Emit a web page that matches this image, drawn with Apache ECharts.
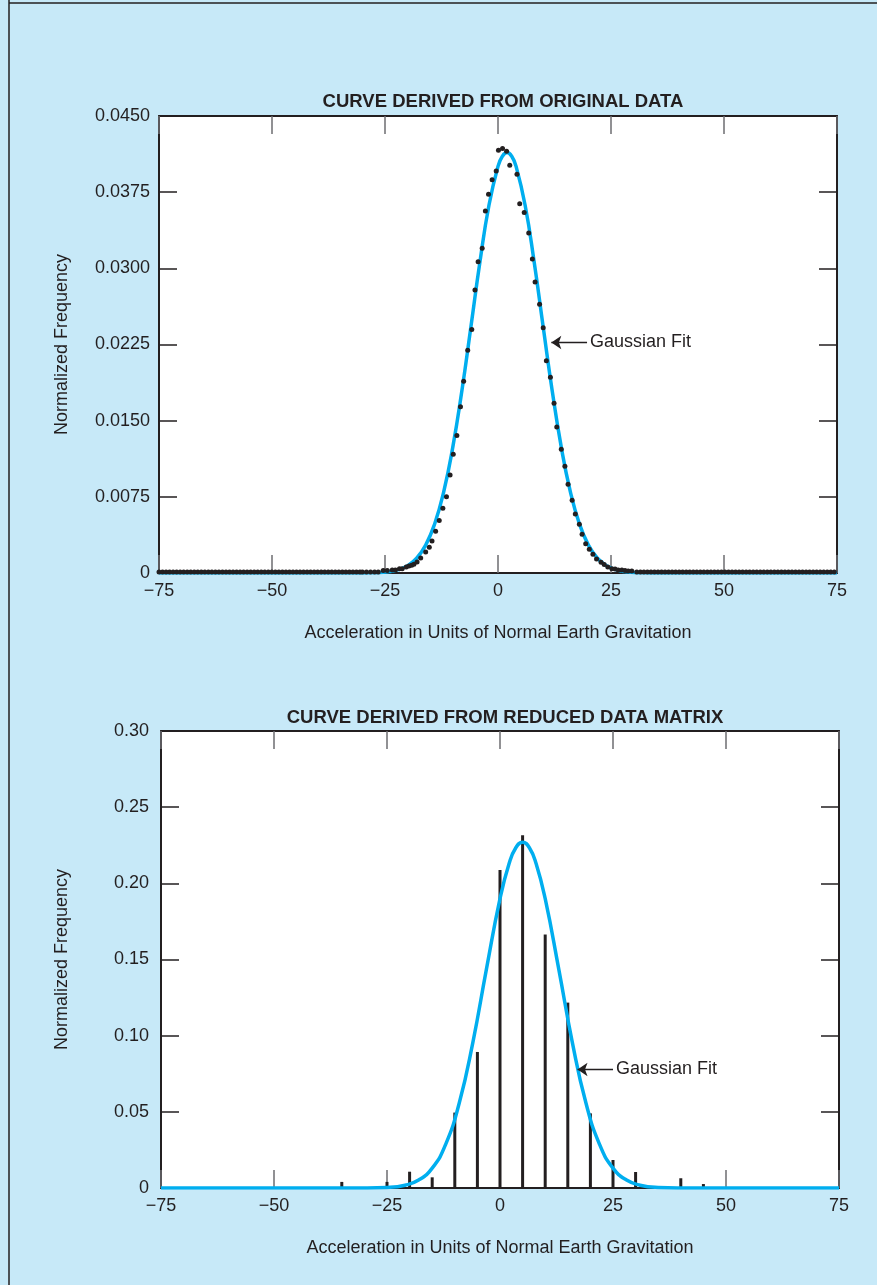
<!DOCTYPE html>
<html>
<head>
<meta charset="utf-8">
<title>Gaussian fit curves</title>
<script src="https://cdn.jsdelivr.net/npm/echarts@6/dist/echarts.min.js"></script>
<style>
    html, body { margin: 0; padding: 0; background: #c7e9f8; }
    #main { width: 877px; height: 1285px; }
</style>
</head>
<body>
<div id="main"></div>
<script>
// tick values
var xTicks = [-75, -50, -25, 0, 25, 50, 75];
var topYTicks = [0, 0.0075, 0.015, 0.0225, 0.03, 0.0375, 0.045];
var bottomYTicks = [0, 0.05, 0.1, 0.15, 0.2, 0.25, 0.3];

var dotX = [-30.0, -29.1, -28.2, -27.3, -26.5, -25.4, -24.5, -23.4, -22.7, -21.8, -21.2, -20.3, -19.7, -19.1,
    -18.6, -17.9, -17.1, -16.0, -15.2, -14.6, -13.8, -13.0, -12.2, -11.4, -10.6, -9.9, -9.1, -8.3, -7.6, -6.7,
    -5.8, -5.1, -4.4, -3.5, -2.8, -2.1, -1.3, -0.4, 0.1, 1.0, 1.9, 2.6, 4.2, 4.8, 5.8, 6.8, 7.6, 8.2, 9.2, 10.0,
    10.7, 11.6, 12.4, 13.0, 14.0, 14.8, 15.5, 16.4, 17.1, 18.0, 18.6, 19.4, 20.2, 21.0, 21.8, 22.8, 23.5, 24.3,
    25.2, 25.9, 26.6, 27.4, 28.1, 28.8, 29.6, 30.7];
var dotY = [0.0001, 0.0001, 0.0001, 0.0001, 0.0001, 0.00024, 0.00024, 0.0003, 0.0003, 0.00043, 0.00043, 0.00059,
    0.00069, 0.00076, 0.00086, 0.00108, 0.00148, 0.00207, 0.00253, 0.00315, 0.00411, 0.00516, 0.00637, 0.00752,
    0.00965, 0.01169, 0.01353, 0.01638, 0.01888, 0.02193, 0.02397, 0.02787, 0.03066, 0.03197, 0.03564, 0.03729,
    0.03873, 0.03958, 0.04162, 0.04179, 0.04152, 0.04014, 0.03926, 0.03637, 0.03549, 0.03348, 0.03092, 0.02865,
    0.02646, 0.02416, 0.02091, 0.01927, 0.01671, 0.01438, 0.01218, 0.01051, 0.00873, 0.00716, 0.00581, 0.0048,
    0.00381, 0.00289, 0.00233, 0.00184, 0.00138, 0.00105, 0.00083, 0.00059, 0.00043, 0.0004, 0.0003, 0.0003,
    0.00025, 0.0002, 0.0002, 0.0001];
// flat tails of the top plot: points every 0.78 units, all sitting on zero
var tailStep = 0.78;
var tailValue = 0.0001;

// top plot: gaussian fit
var fitTopX = [-75, -50, -36, -32, -28, -26, -24, -22, -20, -18, -16, -14, -12, -10, -8, -6, -4, -2, 0, 1, 2, 3,
    4, 6, 8, 10, 12, 14, 16, 18, 20, 22, 24, 26, 28, 30, 32, 36, 50, 75];
var fitTopY = [0, 0, 0, 0.000003, 0.000022, 0.000058, 0.000144, 0.000333, 0.000719, 0.001452, 0.002744, 0.004853,
    0.00802, 0.012395, 0.017918, 0.024223, 0.030624, 0.036208, 0.040036, 0.041055, 0.0414, 0.041055, 0.040036,
    0.036208, 0.030624, 0.024223, 0.017918, 0.012395, 0.00802, 0.004853, 0.002744, 0.001452, 0.000719, 0.000333,
    0.000144, 0.000058, 0.000022, 0.000003, 0, 0];

// bottom plot: reduced data matrix bars
var barX = [-35, -25, -20, -15, -10, -5, 0, 5, 10, 15, 20, 25, 30, 40, 45];
var barY = [0.004, 0.004, 0.0107, 0.007, 0.0495, 0.0893, 0.2088, 0.2316, 0.1664, 0.1217, 0.049, 0.0184, 0.0105,
    0.0064, 0.0026];

// bottom plot: gaussian fit
var fitBottomX = [-75, -60, -45, -35, -30, -25, -21, -18, -15, -12, -9, -6, -3, 0, 2, 3.5, 5, 6.5, 8, 10, 13, 16,
    19, 22, 25, 28, 31, 35, 40, 45, 60, 75];
var fitBottomY = [0, 0, 0, 0.000003, 0.000036, 0.000366, 0.001814, 0.005185, 0.013037, 0.028806, 0.055978,
    0.095658, 0.143714, 0.189886, 0.212858, 0.22339, 0.227, 0.22339, 0.212858, 0.189886, 0.143714, 0.095658,
    0.055978, 0.028806, 0.013037, 0.005185, 0.001814, 0.000366, 0.000036, 0, 0, 0];

var ink = '#231f20';
var blue = '#00aeef';
var font = 'Liberation Sans, Arial, sans-serif';

function pairs(xs, ys) {
    var out = [];
    for (var i = 0; i < xs.length; i++) {
        out.push([xs[i], ys[i]]);
    }
    return out;
}

function xLabel(v) {
    return v < 0 ? '\u2212' + Math.abs(v) : String(v);
}

// dots of the top plot, tails + measured middle
var dots = [];
for (var x = -75; x < -30.4; x += tailStep) {
    dots.push([x, tailValue]);
}
dots = dots.concat(pairs(dotX, dotY));
for (var x2 = 31.5; x2 <= 75.01; x2 += tailStep) {
    dots.push([x2, tailValue]);
}

function xAxes(grid, ticks) {
    var base = {
        gridIndex: grid, type: 'value', min: ticks[0], max: ticks[ticks.length - 1],
        interval: ticks[1] - ticks[0],
        axisLine: { show: true, onZero: false, lineStyle: { color: ink, width: 2 } },
        axisTick: { show: true, inside: true, length: 18, lineStyle: { color: '#6d6e71', width: 1.5 } },
        splitLine: { show: false }
    };
    var bottom = echarts.util.merge({
        position: 'bottom',
        name: 'Acceleration in Units of Normal Earth Gravitation',
        nameLocation: 'middle', nameGap: 51,
        nameTextStyle: { color: ink, fontSize: 18, fontFamily: font },
        axisLabel: { color: ink, fontSize: 18, fontFamily: font, margin: 9, formatter: xLabel }
    }, base, true);
    var top = echarts.util.merge({ position: 'top', axisLabel: { show: false } }, base, true);
    return [bottom, top];
}

function yAxes(grid, ticks, digits, gap, margin) {
    var base = {
        gridIndex: grid, type: 'value', min: 0, max: ticks[ticks.length - 1],
        interval: ticks[1],
        axisLine: { show: true, onZero: false, lineStyle: { color: ink, width: 2 } },
        axisTick: { show: true, inside: true, length: 18, lineStyle: { color: ink, width: 1.5 } },
        splitLine: { show: false }
    };
    var left = echarts.util.merge({
        position: 'left',
        name: 'Normalized Frequency',
        nameLocation: 'middle', nameGap: gap,
        nameTextStyle: { color: ink, fontSize: 18, fontFamily: font },
        axisLabel: {
            color: ink, fontSize: 18, fontFamily: font, margin: margin,
            formatter: function (v) { return v === 0 ? '0' : v.toFixed(digits); }
        }
    }, base, true);
    var right = echarts.util.merge({ position: 'right', axisLabel: { show: false } }, base, true);
    return [left, right];
}

function arrowNote(from, to) {
    return {
        silent: true,
        animation: false,
        symbol: ['none', 'arrow'],
        symbolSize: 10,
        lineStyle: { color: ink, width: 1.3, type: 'solid' },
        itemStyle: { color: ink },
        label: {
            show: true, position: 'start', distance: 3, formatter: 'Gaussian Fit',
            color: ink, fontSize: 18, fontFamily: font
        },
        emphasis: { disabled: true },
        data: [[{ coord: from }, { coord: to }]]
    };
}

var myChart = echarts.init(document.getElementById('main'));

var option = {
    backgroundColor: '#c7e9f8',
    animation: false,
    title: [
        {
            text: 'CURVE DERIVED FROM ORIGINAL DATA', left: 498, top: 87, textAlign: 'center',
            textStyle: { color: ink, fontSize: 18.5, fontWeight: 'bold', fontFamily: font }
        },
        {
            text: 'CURVE DERIVED FROM REDUCED DATA MATRIX', left: 500, top: 703, textAlign: 'center',
            textStyle: { color: ink, fontSize: 18.5, fontWeight: 'bold', fontFamily: font }
        }
    ],
    grid: [
        { left: 159, top: 116, width: 678, height: 457, show: true, backgroundColor: '#fff', borderWidth: 0 },
        { left: 161, top: 731, width: 678, height: 457, show: true, backgroundColor: '#fff', borderWidth: 0 }
    ],
    xAxis: xAxes(0, xTicks).concat(xAxes(1, xTicks)),
    yAxis: yAxes(0, topYTicks, 4, 88, 9).concat(yAxes(1, bottomYTicks, 2, 90, 12)),
    // frame lines around the figure box
    graphic: [
        { type: 'line', shape: { x1: 9, y1: 0, x2: 9, y2: 1285 }, style: { stroke: ink, lineWidth: 1.5 } },
        { type: 'line', shape: { x1: 9, y1: 3, x2: 877, y2: 3 }, style: { stroke: ink, lineWidth: 1.5 } }
    ],
    series: [
        {
            name: 'fitTop', type: 'line', xAxisIndex: 0, yAxisIndex: 0,
            data: pairs(fitTopX, fitTopY), smooth: 0.5,
            showSymbol: false, z: 2,
            lineStyle: { color: blue, width: 3.5 },
            markLine: arrowNote([19.7, 0.0227], [11.8, 0.0227])
        },
        {
            name: 'original', type: 'scatter', xAxisIndex: 0, yAxisIndex: 0,
            data: dots, symbolSize: 5, z: 3,
            itemStyle: { color: ink, opacity: 1 }
        },
        {
            name: 'reduced', type: 'bar', xAxisIndex: 2, yAxisIndex: 2,
            data: pairs(barX, barY), barWidth: 3, z: 2,
            itemStyle: { color: ink }
        },
        {
            name: 'fitBottom', type: 'line', xAxisIndex: 2, yAxisIndex: 2,
            data: pairs(fitBottomX, fitBottomY), smooth: 0.5,
            showSymbol: false, z: 3,
            lineStyle: { color: blue, width: 3.5 },
            markLine: arrowNote([25.0, 0.0778], [17.15, 0.0778])
        }
    ]
};

myChart.setOption(option);
</script>
</body>
</html>
